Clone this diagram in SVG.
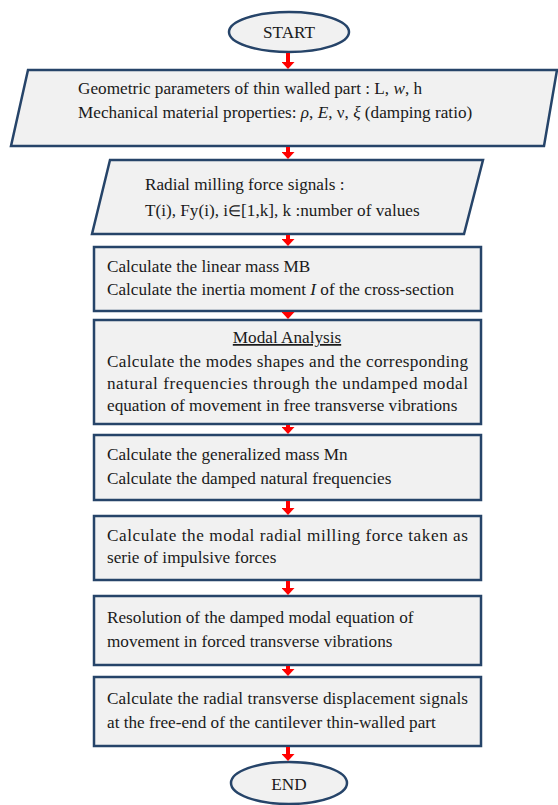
<svg xmlns="http://www.w3.org/2000/svg" width="558" height="805" viewBox="0 0 558 805">
<defs>
<style>
.shape{fill:#f1f1f1;stroke:#264469;stroke-width:2.5;}
.t{font-family:"Liberation Serif","Times New Roman",serif;font-size:17.2px;fill:#1a1a1a;}
.c{text-anchor:middle;}
.arr{stroke:#ff0000;stroke-width:4;fill:none;}
</style>
<marker id="ah" markerUnits="userSpaceOnUse" viewBox="0 0 7 13" markerWidth="7" markerHeight="13" refX="1" refY="6.5" orient="auto">
<path d="M0,0 L7,6.5 L0,13 z" fill="#ff0000"/>
</marker>
</defs>
<rect width="558" height="805" fill="#ffffff"/>

<g id="start">
<ellipse class="shape" cx="289" cy="32" rx="60" ry="20"/>
<text class="t c" x="289" y="38">START</text>
</g>

<g id="input1">
<polygon class="shape" points="28,70 557,70 544,146 11,146"/>
<text class="t" x="78" y="94">Geometric parameters of thin walled part : L, <tspan font-style="italic">w</tspan>, h</text>
<text class="t" x="78" y="118">Mechanical material properties: <tspan font-style="italic">ρ</tspan>, <tspan font-style="italic">E</tspan>, ν, <tspan font-style="italic">ξ</tspan> (damping ratio)</text>
</g>

<g id="input2">
<polygon class="shape" points="110,160 483,160 464,234 92,234"/>
<text class="t" x="145" y="190">Radial milling force signals :</text>
<text class="t" x="145" y="216">T(i), Fy(i), i<tspan font-size="15px">∈</tspan>[1,k], k :number of values</text>
</g>

<g id="step1">
<rect class="shape" x="94" y="247" width="387" height="64"/>
<text class="t" x="107" y="272">Calculate the linear mass MB</text>
<text class="t" x="107" y="295">Calculate the inertia moment <tspan font-style="italic">I</tspan> of the cross-section</text>
</g>

<g id="step2">
<rect class="shape" x="94" y="320" width="387" height="104"/>
<text class="t c" x="287" y="343" text-decoration="underline">Modal Analysis</text>
<text class="t" x="107" y="367" textLength="361" lengthAdjust="spacing">Calculate the modes shapes and the corresponding</text>
<text class="t" x="107" y="389" textLength="361" lengthAdjust="spacing">natural frequencies through the undamped modal</text>
<text class="t" x="107" y="411">equation of movement in free transverse vibrations</text>
</g>

<g id="step3">
<rect class="shape" x="94" y="435" width="387" height="65"/>
<text class="t" x="107" y="460">Calculate the generalized mass Mn</text>
<text class="t" x="107" y="484">Calculate the damped natural frequencies</text>
</g>

<g id="step4">
<rect class="shape" x="94" y="516" width="387" height="64"/>
<text class="t" x="107" y="541" textLength="361" lengthAdjust="spacing">Calculate the modal radial milling force taken as</text>
<text class="t" x="107" y="563">serie of impulsive forces</text>
</g>

<g id="step5">
<rect class="shape" x="94" y="596" width="387" height="69"/>
<text class="t" x="107" y="623">Resolution of the damped modal equation of</text>
<text class="t" x="107" y="647">movement in forced transverse vibrations</text>
</g>

<g id="step6">
<rect class="shape" x="94" y="677" width="387" height="69"/>
<text class="t" x="107" y="704" textLength="361" lengthAdjust="spacing">Calculate the radial transverse displacement signals</text>
<text class="t" x="107" y="728">at the free-end of the cantilever thin-walled part</text>
</g>

<g id="end">
<ellipse class="shape" cx="289" cy="783" rx="58" ry="21"/>
<text class="t c" x="289" y="790">END</text>
</g>

<g id="connectors">
<line class="arr" x1="288" y1="53" x2="288" y2="63" marker-end="url(#ah)"/>
<line class="arr" x1="288" y1="147" x2="288" y2="153" marker-end="url(#ah)"/>
<line class="arr" x1="288" y1="235" x2="288" y2="240" marker-end="url(#ah)"/>
<line class="arr" x1="288" y1="312" x2="288" y2="313" marker-end="url(#ah)"/>
<line class="arr" x1="288" y1="425" x2="288" y2="428" marker-end="url(#ah)"/>
<line class="arr" x1="288" y1="501" x2="288" y2="509" marker-end="url(#ah)"/>
<line class="arr" x1="288" y1="581" x2="288" y2="589" marker-end="url(#ah)"/>
<line class="arr" x1="288" y1="666" x2="288" y2="670" marker-end="url(#ah)"/>
<line class="arr" x1="288" y1="747" x2="288" y2="755" marker-end="url(#ah)"/>
</g>
</svg>
